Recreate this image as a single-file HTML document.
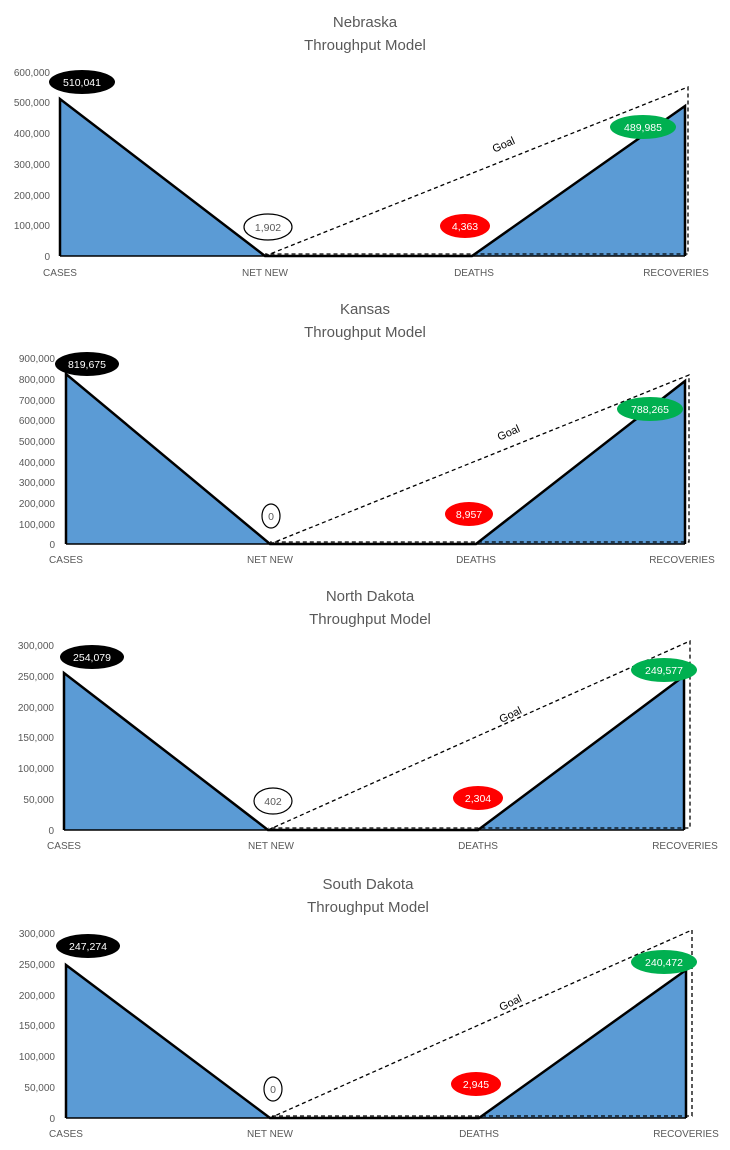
<!DOCTYPE html>
<html><head><meta charset="utf-8"><style>
html,body{margin:0;padding:0;background:#fff;}
svg{display:block;font-family:"Liberation Sans",sans-serif;}
.t{font-size:15px;fill:#595959;text-anchor:middle;}
.ax{font-size:10px;fill:#595959;text-anchor:end;}
.cat{font-size:10px;fill:#595959;text-anchor:middle;}
.ov{font-size:10.5px;text-anchor:middle;}
</style></head><body>
<svg width="730" height="1150" viewBox="0 0 730 1150">
<!-- Nebraska -->
<text class="t" x="365" y="27">Nebraska</text>
<text class="t" x="365" y="50">Throughput Model</text>
<g class="ax">
<text x="50" y="76">600,000</text><text x="50" y="106">500,000</text><text x="50" y="137">400,000</text>
<text x="50" y="168">300,000</text><text x="50" y="199">200,000</text><text x="50" y="229">100,000</text><text x="50" y="260">0</text>
</g>
<polygon points="60,256 60,99 265,256" fill="#5b9bd5"/>
<polygon points="472,256 685,106 685,256" fill="#5b9bd5"/>
<polyline points="60,256 60,99 265,256 472,256 685,106 685,256" fill="none" stroke="#000" stroke-width="2.5"/>
<line x1="60" y1="256" x2="685" y2="256" stroke="#000" stroke-width="1.5"/>
<polyline points="265,256 688,87 688,254 265,254" fill="none" stroke="#000" stroke-width="1.3" stroke-dasharray="4,3"/>
<text x="505" y="148" font-size="11" transform="rotate(-24 505 148)" text-anchor="middle">Goal</text>
<ellipse cx="82" cy="82" rx="33" ry="12" fill="#000"/><text class="ov" x="82" y="86" fill="#fff">510,041</text>
<ellipse cx="268" cy="227" rx="24" ry="13" fill="#fff" stroke="#000" stroke-width="1.2"/><text class="ov" x="268" y="231" fill="#595959">1,902</text>
<ellipse cx="465" cy="226" rx="25" ry="12" fill="#f00"/><text class="ov" x="465" y="230" fill="#fff">4,363</text>
<ellipse cx="643" cy="127" rx="33" ry="12" fill="#00b050"/><text class="ov" x="643" y="131" fill="#fff">489,985</text>
<g class="cat"><text x="60" y="276">CASES</text><text x="265" y="276">NET NEW</text><text x="474" y="276">DEATHS</text><text x="676" y="276">RECOVERIES</text></g>

<!-- Kansas -->
<text class="t" x="365" y="314">Kansas</text>
<text class="t" x="365" y="337">Throughput Model</text>
<g class="ax">
<text x="55" y="362">900,000</text><text x="55" y="383">800,000</text><text x="55" y="404">700,000</text><text x="55" y="424">600,000</text>
<text x="55" y="445">500,000</text><text x="55" y="466">400,000</text><text x="55" y="486">300,000</text><text x="55" y="507">200,000</text>
<text x="55" y="528">100,000</text><text x="55" y="548">0</text>
</g>
<polygon points="66,544 66,374 270,544" fill="#5b9bd5"/>
<polygon points="476,544 685,381 685,544" fill="#5b9bd5"/>
<polyline points="66,544 66,374 270,544 476,544 685,381 685,544" fill="none" stroke="#000" stroke-width="2.5"/>
<line x1="66" y1="544" x2="685" y2="544" stroke="#000" stroke-width="1.5"/>
<polyline points="270,544 689,375 689,542 270,542" fill="none" stroke="#000" stroke-width="1.3" stroke-dasharray="4,3"/>
<text x="510" y="436" font-size="11" transform="rotate(-24 510 436)" text-anchor="middle">Goal</text>
<ellipse cx="87" cy="364" rx="32" ry="12" fill="#000"/><text class="ov" x="87" y="368" fill="#fff">819,675</text>
<ellipse cx="271" cy="516" rx="9" ry="12" fill="#fff" stroke="#000" stroke-width="1.2"/><text class="ov" x="271" y="520" fill="#595959">0</text>
<ellipse cx="469" cy="514" rx="24" ry="12" fill="#f00"/><text class="ov" x="469" y="518" fill="#fff">8,957</text>
<ellipse cx="650" cy="409" rx="33" ry="12" fill="#00b050"/><text class="ov" x="650" y="413" fill="#fff">788,265</text>
<g class="cat"><text x="66" y="563">CASES</text><text x="270" y="563">NET NEW</text><text x="476" y="563">DEATHS</text><text x="682" y="563">RECOVERIES</text></g>

<!-- North Dakota -->
<text class="t" x="370" y="601">North Dakota</text>
<text class="t" x="370" y="624">Throughput Model</text>
<g class="ax">
<text x="54" y="649">300,000</text><text x="54" y="680">250,000</text><text x="54" y="711">200,000</text><text x="54" y="741">150,000</text>
<text x="54" y="772">100,000</text><text x="54" y="803">50,000</text><text x="54" y="834">0</text>
</g>
<polygon points="64,830 64,673 268,830" fill="#5b9bd5"/>
<polygon points="478,830 684,676 684,830" fill="#5b9bd5"/>
<polyline points="64,830 64,673 268,830 478,830 684,676 684,830" fill="none" stroke="#000" stroke-width="2.5"/>
<line x1="64" y1="830" x2="684" y2="830" stroke="#000" stroke-width="1.5"/>
<polyline points="268,830 690,641 690,828 268,828" fill="none" stroke="#000" stroke-width="1.3" stroke-dasharray="4,3"/>
<text x="512" y="718" font-size="11" transform="rotate(-26 512 718)" text-anchor="middle">Goal</text>
<ellipse cx="92" cy="657" rx="32" ry="12" fill="#000"/><text class="ov" x="92" y="661" fill="#fff">254,079</text>
<ellipse cx="273" cy="801" rx="19" ry="13" fill="#fff" stroke="#000" stroke-width="1.2"/><text class="ov" x="273" y="805" fill="#595959">402</text>
<ellipse cx="478" cy="798" rx="25" ry="12" fill="#f00"/><text class="ov" x="478" y="802" fill="#fff">2,304</text>
<ellipse cx="664" cy="670" rx="33" ry="12" fill="#00b050"/><text class="ov" x="664" y="674" fill="#fff">249,577</text>
<g class="cat"><text x="64" y="849">CASES</text><text x="271" y="849">NET NEW</text><text x="478" y="849">DEATHS</text><text x="685" y="849">RECOVERIES</text></g>

<!-- South Dakota -->
<text class="t" x="368" y="889">South Dakota</text>
<text class="t" x="368" y="912">Throughput Model</text>
<g class="ax">
<text x="55" y="937">300,000</text><text x="55" y="968">250,000</text><text x="55" y="999">200,000</text><text x="55" y="1029">150,000</text>
<text x="55" y="1060">100,000</text><text x="55" y="1091">50,000</text><text x="55" y="1122">0</text>
</g>
<polygon points="66,1118 66,965 270,1118" fill="#5b9bd5"/>
<polygon points="479,1118 686,970 686,1118" fill="#5b9bd5"/>
<polyline points="66,1118 66,965 270,1118 479,1118 686,970 686,1118" fill="none" stroke="#000" stroke-width="2.5"/>
<line x1="66" y1="1118" x2="686" y2="1118" stroke="#000" stroke-width="1.5"/>
<polyline points="270,1118 692,930 692,1116 270,1116" fill="none" stroke="#000" stroke-width="1.3" stroke-dasharray="4,3"/>
<text x="512" y="1006" font-size="11" transform="rotate(-26 512 1006)" text-anchor="middle">Goal</text>
<ellipse cx="88" cy="946" rx="32" ry="12" fill="#000"/><text class="ov" x="88" y="950" fill="#fff">247,274</text>
<ellipse cx="273" cy="1089" rx="9" ry="12" fill="#fff" stroke="#000" stroke-width="1.2"/><text class="ov" x="273" y="1093" fill="#595959">0</text>
<ellipse cx="476" cy="1084" rx="25" ry="12" fill="#f00"/><text class="ov" x="476" y="1088" fill="#fff">2,945</text>
<ellipse cx="664" cy="962" rx="33" ry="12" fill="#00b050"/><text class="ov" x="664" y="966" fill="#fff">240,472</text>
<g class="cat"><text x="66" y="1137">CASES</text><text x="270" y="1137">NET NEW</text><text x="479" y="1137">DEATHS</text><text x="686" y="1137">RECOVERIES</text></g>
</svg>
</body></html>
